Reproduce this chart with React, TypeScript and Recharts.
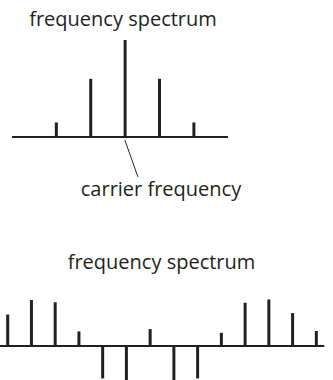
import { BarChart, Bar, XAxis, YAxis, ReferenceLine } from "recharts";

// top panel: carrier plus sidebands
const topFreqs = [-2, -1, 0, 1, 2];
const topAmps = [0.15, 0.6, 1, 0.6, 0.15];

// bottom panel: broader spectrum, some components inverted
const bottomFreqs = [0, 1, 2, 3, 4, 5, 6, 7, 8, 9, 10, 11, 12, 13];
const bottomAmps = [0.67, 0.98, 0.93, 0.31, -0.69, -0.74, 0.36, -0.74, -0.69, 0.28, 0.92, 0.99, 0.7, 0.32];

const titleText = "frequency spectrum";
const carrierLabel = "carrier frequency";

const INK = "#231f20";
const FONT = "'Open Sans', sans-serif";

const topData = topFreqs.map((f, i) => ({ f, a: topAmps[i] }));
const bottomData = bottomFreqs.map((f, i) => ({ f, a: bottomAmps[i] }));

export default function App() {
  return (
    <div style={{ position: "relative", width: 333, height: 380, overflow: "hidden", background: "#fff" }}>
      <style>{`body { margin: 0; }`}</style>

      <div style={{ position: "absolute", left: 0, top: 0 }}>
        <BarChart width={333} height={200} data={topData} margin={{ top: 40, right: 105, bottom: 63, left: 12 }}>
          <XAxis type="number" dataKey="f" domain={[-3.28, 3]} hide />
          <YAxis type="number" domain={[0, 1]} hide />
          <ReferenceLine y={0} stroke={INK} strokeWidth={2} />
          <ReferenceLine
            segment={[{ x: 0, y: -0.03 }, { x: 0.38, y: -0.41 }]}
            stroke={INK}
            strokeWidth={1}
            ifOverflow="visible"
          />
          <Bar dataKey="a" fill={INK} barSize={3} isAnimationActive={false} />
        </BarChart>
      </div>

      <div style={{ position: "absolute", left: 0, top: 240 }}>
        <BarChart width={333} height={160} data={bottomData} margin={{ top: 59, right: 8.7, bottom: 7, left: 0 }}>
          <XAxis type="number" dataKey="f" domain={[-0.34, 13.32]} hide />
          <YAxis type="number" domain={[-1, 1]} hide />
          <ReferenceLine y={0} stroke={INK} strokeWidth={2} />
          <Bar dataKey="a" fill={INK} barSize={3} isAnimationActive={false} />
        </BarChart>
      </div>

      <svg width={333} height={380} style={{ position: "absolute", left: 0, top: 0, pointerEvents: "none" }}>
        <text x={123} y={26} textAnchor="middle" fontFamily={FONT} fontSize={20} fill={INK}>
          {titleText}
        </text>
        <text x={161} y={196} textAnchor="middle" fontFamily={FONT} fontSize={20} fill={INK}>
          {carrierLabel}
        </text>
        <text x={161.5} y={269} textAnchor="middle" fontFamily={FONT} fontSize={20} fill={INK}>
          {titleText}
        </text>
      </svg>
    </div>
  );
}
